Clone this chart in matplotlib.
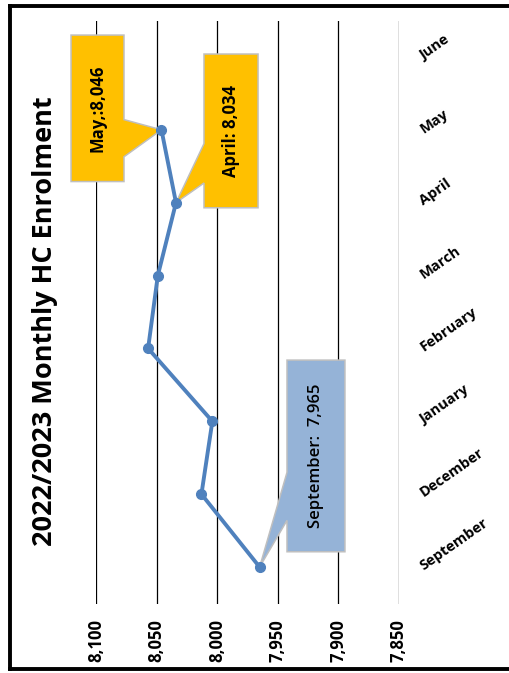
import matplotlib.pyplot as plt
from matplotlib.patches import Polygon
from matplotlib.lines import Line2D
import matplotlib.transforms as mtransforms

plt.rcParams['font.family'] = ['Open Sans', 'DejaVu Sans']

# Data
months = ['September', 'December', 'January', 'February', 'March', 'April', 'May', 'June']
enrolment = [7965, 8013, 8004, 8057, 8049, 8034, 8046]
value_ticks = [8100, 8050, 8000, 7950, 7900, 7850]
tick_labels = ['8,100', '8,050', '8,000', '7,950', '7,900', '7,850']

# Figure and axes (chart is drawn "sideways": values run right-to-left, months bottom-to-top)
fig = plt.figure(figsize=(5.09, 6.73), dpi=100, facecolor='white')
ax = fig.add_axes([96 / 509, 69.5 / 673, 303 / 509, 583 / 673])
ax.set_xlim(value_ticks[0], value_ticks[-1])
ax.set_ylim(-0.5, len(months) - 0.5)
for s in ax.spines.values():
    s.set_visible(False)

# Gridlines
for v in value_ticks[:-1]:
    ax.axvline(v, color='black', lw=0.9, zorder=1)
ax.axvline(value_ticks[-1], color='#D9D9D9', lw=1.2, zorder=1)

ax.set_xticks(value_ticks)
ax.set_xticklabels(tick_labels, rotation=90, fontsize=12, fontweight='bold')
ax.tick_params(axis='x', length=0, pad=11)
ax.set_yticks([])

# Month labels on the right side
trans = mtransforms.blended_transform_factory(ax.transAxes, ax.transData)
for i, m in enumerate(months):
    ax.text(1.073, i, m, transform=trans, rotation=35, rotation_mode='anchor',
            ha='left', va='center', fontsize=10.5, fontweight='bold')

# Line
ypos = list(range(len(enrolment)))
ax.plot(enrolment, ypos, color='#4F81BD', lw=2.8, marker='o', markersize=7,
        zorder=5, clip_on=False)


def callout(idx, text, color, box, base, side, weight='bold'):
    # box = (x offsets left/right, y offsets top/bottom) relative to the point
    px, py = enrolment[idx], idx
    xl, xr = px + box[0], px + box[1]
    yt, yb = py + box[2], py + box[3]
    bt, bb = py + base[0], py + base[1]
    if side == 'left':
        verts = [(xl, yt), (xr, yt), (xr, yb), (xl, yb), (xl, bb), (px, py), (xl, bt)]
    else:
        verts = [(xl, yt), (xr, yt), (xr, bt), (px, py), (xr, bb), (xr, yb), (xl, yb)]
    ax.add_patch(Polygon(verts, closed=True, facecolor=color, edgecolor='#BFBFBF',
                         lw=1.1, zorder=3, clip_on=False))
    ax.text((xl + xr) / 2, (yt + yb) / 2, text, rotation=90, ha='center', va='center',
            fontsize=12, fontweight=weight, zorder=4)


callout(6, 'May,:8,046', '#FFC000', (74.6, 30.9, 1.30, -0.71), (0.14, -0.37), 'right')
callout(5, 'April: 8,034', '#FFC000', (-23.1, -67.7, 2.04, -0.07), (0.81, 0.27), 'left')
callout(0, 'September:  7,965', '#95B3D7', (-22.6, -70.4, 2.84, 0.21), (1.30, 0.64), 'left',
        weight='semibold')

# Title
fig.text(45 / 509, 1 - 321 / 673, '2022/2023 Monthly HC Enrolment', rotation=90,
         ha='center', va='center', fontsize=19.5, fontweight='bold')

# Outer frame (top, left, bottom)
fx0, fy_top, fy_bot = 10 / 509, 1 - 6 / 673, 1 - 669 / 673
for xs, ys in [([fx0, 1], [fy_top, fy_top]), ([fx0, fx0], [fy_top, fy_bot]),
               ([fx0, 1], [fy_bot, fy_bot])]:
    fig.add_artist(Line2D(xs, ys, color='black', lw=2.8, transform=fig.transFigure))

fig.savefig('out.png', dpi=100, facecolor='white')
